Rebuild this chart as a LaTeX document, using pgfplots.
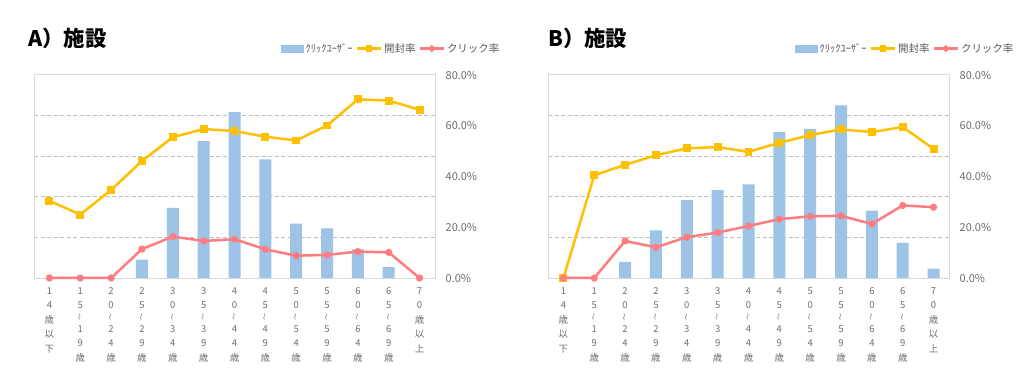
\documentclass[border=0pt]{standalone}
\usepackage{fontspec}
\setmainfont{Noto Sans CJK JP}
\usepackage{graphicx}
\usepackage{pgfplots}
\usepackage{pgfplotstable}
\pgfplotsset{compat=1.18}
\definecolor{barblue}{HTML}{9DC3E6}
\definecolor{openy}{HTML}{FFC000}
\definecolor{clickr}{HTML}{FF7C80}
\definecolor{txtgray}{HTML}{595959}
\definecolor{tickgray}{HTML}{6E6E6E}
\definecolor{boxgray}{HTML}{D9D9D9}
\definecolor{gridgray}{HTML}{BFBFBF}
\newcommand{\wave}{\rotatebox{90}{\fontsize{7}{7}\selectfont ～}}

\pgfplotstableread{
x y
3 9.0
4 34.5
5 67.4
6 81.7
7 58.4
8 26.8
9 24.5
10 14.1
11 5.3
}\barsA
\pgfplotstableread{
x open click
0 30.4 0
1 25.0 0
2 34.7 0
3 46.1 11.4
4 55.5 16.3
5 58.7 14.6
6 57.9 15.3
7 55.7 11.3
8 54.2 8.8
9 60.1 9.1
10 70.4 10.4
11 69.9 10.1
12 66.3 0
}\linesA
\pgfplotstableread{
x y
2 7.9
3 23.5
4 38.3
5 43.3
6 46.1
7 71.9
8 73.4
9 85.0
10 33.2
11 17.3
12 4.6
}\barsB
\pgfplotstableread{
x open click
0 0 0
1 40.5 0
2 44.6 14.6
3 48.4 12.1
4 51.1 16.1
5 51.6 17.9
6 49.7 20.5
7 53.3 23.2
8 56.3 24.3
9 58.6 24.5
10 57.5 21.3
11 59.5 28.6
12 50.9 27.9
}\linesB

\pgfplotsset{
  base/.style={width=401bp,height=203bp,scale only axis,xmin=-0.5,xmax=12.5},
  primary/.style={base, ymin=0, ymax=100, ytick={20,40,60,80}, yticklabels={},
    ymajorgrids, major tick length=0,
    axis line style={boxgray, line width=1bp},
    grid style={gridgray, dash pattern=on 4bp off 2.5bp, line width=0.8bp},
    xtick={0,...,12},
    xticklabels={
      {1\\4\\歳\\以\\下},
      {1\\5\\[-2.7bp]\wave\\[-2.7bp]1\\9\\歳},
      {2\\0\\[-2.7bp]\wave\\[-2.7bp]2\\4\\歳},
      {2\\5\\[-2.7bp]\wave\\[-2.7bp]2\\9\\歳},
      {3\\0\\[-2.7bp]\wave\\[-2.7bp]3\\4\\歳},
      {3\\5\\[-2.7bp]\wave\\[-2.7bp]3\\9\\歳},
      {4\\0\\[-2.7bp]\wave\\[-2.7bp]4\\4\\歳},
      {4\\5\\[-2.7bp]\wave\\[-2.7bp]4\\9\\歳},
      {5\\0\\[-2.7bp]\wave\\[-2.7bp]5\\4\\歳},
      {5\\5\\[-2.7bp]\wave\\[-2.7bp]5\\9\\歳},
      {6\\0\\[-2.7bp]\wave\\[-2.7bp]6\\4\\歳},
      {6\\5\\[-2.7bp]\wave\\[-2.7bp]6\\9\\歳},
      {7\\0\\歳\\以\\上}},
    xticklabel style={font=\fontsize{9.5}{14.5}\selectfont, text=tickgray, align=center, anchor=north, yshift=-6bp},
  },
  secondary/.style={base, ymin=0, ymax=80, axis x line=none, axis y line*=right,
    y axis line style={draw=none}, major tick length=0,
    ytick={0,20,40,60,80},
    /pgf/number format/assume math mode=true,
    yticklabel={\pgfmathprintnumber[fixed,fixed zerofill,precision=1]{\tick}\%},
    yticklabel style={font=\fontsize{11}{13}\selectfont, text=tickgray, anchor=west, inner sep=0pt, xshift=10.5bp},
    clip=false,
    legend columns=-1,
    legend image code/.code={\draw[mark repeat=2,mark phase=2,##1,mark size=1.9bp] plot coordinates {(0bp,0bp) (12bp,0bp) (24bp,0bp)};},
    legend style={draw=none, fill=none, at={(0.616,1.13)}, anchor=west, inner sep=0pt,
      font=\fontsize{10.5}{12}\selectfont, text=txtgray,
      /tikz/every even column/.append style={column sep=1bp},
      /tikz/every odd column/.append style={column sep=0bp}},
  },
  openstyle/.style={openy, line width=2.5bp, mark=square*, mark size=2.7bp, mark options={solid}},
  clickstyle/.style={clickr, line width=2.5bp, mark=*, mark size=2.3bp, mark options={solid}},
}

\begin{document}
\begin{tikzpicture}
\useasboundingbox (0,0) rectangle (1032bp,392bp);
\fill[white] (0,0) rectangle (1032bp,392bp);

% Chart A
\begin{axis}[primary, at={(34bp,114bp)}, anchor=south west]
\addplot[ybar, bar width=12bp, fill=barblue, draw=none] table[x=x,y=y] {\barsA};
\end{axis}
\begin{axis}[secondary, at={(34bp,114bp)}, anchor=south west]
\addlegendimage{legend image code/.code={\fill[barblue] (0bp,-3.5bp) rectangle (22bp,3.5bp);}}
\addlegendentry{ｸﾘｯｸﾕｰｻﾞｰ}
\addplot[openstyle] table[x=x,y=open] {\linesA};
\addlegendentry{開封率}
\addplot[clickstyle] table[x=x,y=click] {\linesA};
\addlegendentry{クリック率}
\end{axis}

% Chart B
\begin{axis}[primary, at={(548bp,114bp)}, anchor=south west]
\addplot[ybar, bar width=12bp, fill=barblue, draw=none] table[x=x,y=y] {\barsB};
\end{axis}
\begin{axis}[secondary, at={(548bp,114bp)}, anchor=south west]
\addlegendimage{legend image code/.code={\fill[barblue] (0bp,-3.5bp) rectangle (22bp,3.5bp);}}
\addlegendentry{ｸﾘｯｸﾕｰｻﾞｰ}
\addplot[openstyle] table[x=x,y=open] {\linesB};
\addlegendentry{開封率}
\addplot[clickstyle] table[x=x,y=click] {\linesB};
\addlegendentry{クリック率}
\end{axis}

\node[anchor=base west, inner sep=0pt, font=\fontsize{21.5}{26}\selectfont\bfseries] at (28bp,345bp) {A）施設};
\node[anchor=base west, inner sep=0pt, font=\fontsize{21.5}{26}\selectfont\bfseries] at (548bp,345bp) {B）施設};
\end{tikzpicture}
\end{document}
